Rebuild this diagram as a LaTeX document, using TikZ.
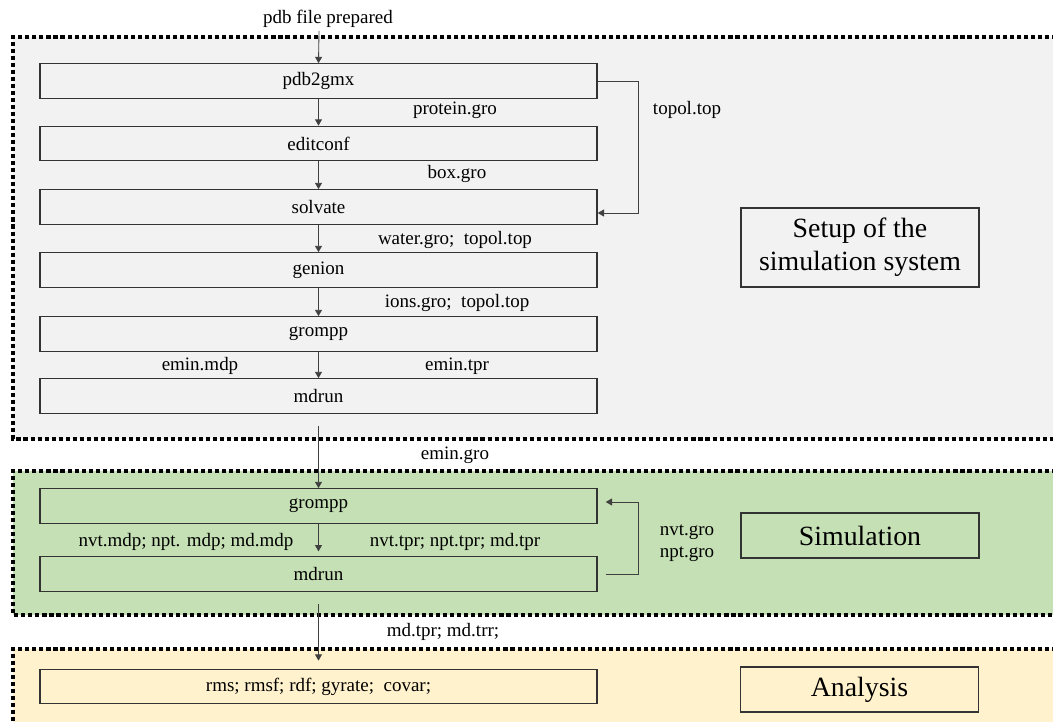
\documentclass[tikz,border=0pt]{standalone}
\usepackage{fontspec}
\setmainfont{Liberation Serif}
\usetikzlibrary{arrows.meta}
\definecolor{setupbg}{HTML}{F2F2F2}
\definecolor{simbg}{HTML}{C5E0B4}
\definecolor{anabg}{HTML}{FFF2CC}

\begin{document}
\begin{tikzpicture}[x=0.025cm, y=-0.025cm,
    every node/.style={font=\fontsize{13.5}{16}\selectfont},
    tool/.style={draw=black!80, line width=0.9pt, minimum width=13.925cm, minimum height=0.86cm, inner sep=0pt},
    stage/.style={draw=black!80, line width=0.9pt, minimum width=5.95cm, inner sep=0pt, align=center, font=\fontsize{19.8}{23.4}\selectfont},
    arr/.style={draw=black!75, line width=0.6pt, -{Triangle[length=4.5pt,width=5pt]}},
    region/.style={line width=2.5pt, dash pattern=on 2.9pt off 2.1pt}]
    \fill[white] (0,0) rectangle (1053,722);
    \clip (0,0) rectangle (1053,722);
    % the three stages
    \fill[setupbg] (13,37) rectangle (1070,439);
    \draw[region] (1070,37) -- (13,37) -- (13,439) -- (1070,439);
    \fill[simbg] (13,471) rectangle (1070,615);
    \draw[region] (1070,471) -- (13,471) -- (13,615) -- (1070,615);
    \fill[anabg] (13,649) rectangle (1070,740);
    \draw[region] (1070,649) -- (13,649) -- (13,740);

    % setup
    \node[tool] (pdb2gmx) at (318.5,81) {pdb2gmx};
    \node[tool] (editconf) at (318.5,143.5) {editconf};
    \node[tool] (solvate) at (318.5,207) {solvate};
    \node[tool] (genion) at (318.5,270) {genion};
    \node[tool] (grompp) at (318.5,334) {grompp};
    \node[tool] (mdrun) at (318.5,396) {mdrun};
    % simulation
    \node[tool] (grompp2) at (318.5,506) {grompp};
    \node[tool] (mdrun2) at (318.5,574) {mdrun};
    % analysis
    \node[tool] (tools) at (318.5,686.5) {rms; rmsf; rdf; gyrate;\ \ covar;};

    \node[stage, minimum height=1.975cm] (setup) at (860,247.5) {Setup of the\\simulation system};
    \node[stage, minimum height=1.125cm] (sim) at (860,535.5) {Simulation};
    \node[stage, minimum height=1.125cm] (ana) at (859.5,689.5) {Analysis};

    \node (pdbfile) at (328,19) {pdb file prepared};
    \coordinate (start) at (319,31);
    \draw[arr] (start) -- (pdb2gmx.north);
    \draw[arr] (pdb2gmx) -- (editconf);
    \draw[arr] (editconf) -- (solvate);
    \draw[arr] (solvate) -- (genion);
    \draw[arr] (genion) -- (grompp);
    \draw[arr] (grompp) -- (mdrun);
    \draw[arr, shorten <=0.3cm] (mdrun) -- (grompp2);
    \draw[arr, shorten >=0.12cm] (grompp2) -- (mdrun2);
    \draw[arr, shorten <=0.3cm, shorten >=0.2cm] (mdrun2) -- (tools);
    \draw[arr] (pdb2gmx.east) -- ++(41,0) |- ([yshift=-0.15cm]solvate.east);
    \draw[arr, shorten <=0.2cm, shorten >=0.2cm] (mdrun2.east) -- ++(41,0) |- ([yshift=0.1cm]grompp2.east);

    % file labels
    \node (protein) at (455,110) {protein.gro};
    \node (topol) at (687,110) {topol.top};
    \node (box) at (457,174) {box.gro};
    \node (water) at (455,240) {water.gro;\ \ topol.top};
    \node (ions) at (457,303) {ions.gro;\ \ topol.top};
    \node (eminmdp) at (200,366) {emin.mdp};
    \node (emintpr) at (457,366) {emin.tpr};
    \node (emingro) at (455,455) {emin.gro};
    \node (mdp) at (186,542) {nvt.mdp; npt. mdp; md.mdp};
    \node (tpr) at (455,542) {nvt.tpr; npt.tpr; md.tpr};
    \node (nvt) at (687,532) {nvt.gro};
    \node (npt) at (687,554) {npt.gro};
    \node (mdout) at (443,632) {md.tpr; md.trr;};
\end{tikzpicture}
\end{document}
